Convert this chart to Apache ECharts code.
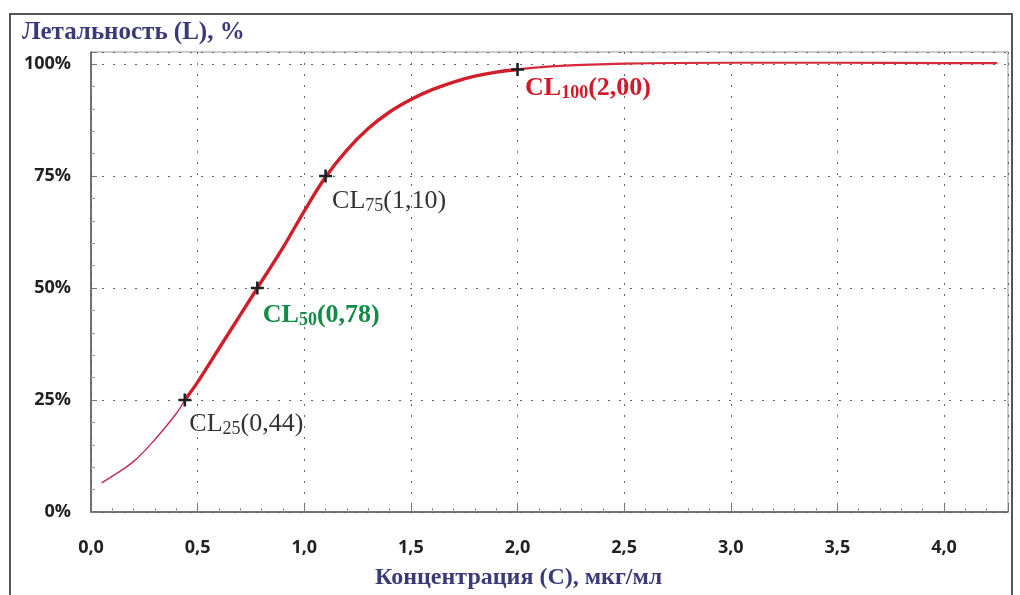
<!DOCTYPE html>
<html><head><meta charset="utf-8">
<script src="https://cdn.jsdelivr.net/npm/echarts@6/dist/echarts.min.js"></script>
<style>html,body{margin:0;padding:0;background:#fff}#c{width:1020px;height:595px}</style>
</head><body><div id="c"></div>
<script>
// Curve data (concentration, lethality %)
const curveX = [0.05,0.1,0.2,0.3,0.4,0.44,0.5,0.6,0.7,0.78,0.9,1.0,1.1,1.2,1.3,1.4,1.5,1.6,1.7,1.8,1.9,2.0,2.2,2.5,3.0,3.5,4.0,4.25];
const curveY = [6.5,8,11.3,16.2,22,25,29,36.5,44,50,59,67.2,74.8,80.8,85.6,89.3,92.1,94.3,96,97.3,98.2,98.8,99.6,100.1,100.3,100.3,100.2,100.2];
// Marked points
const markX = [0.44,0.78,1.10,2.00];
const markY = [25,50,75,98.8];
const markSub = ['25','50','75','100'];
const markVal = ['(0,44)','(0,78)','(1,10)','(2,00)'];
const xTicks = [0,0.5,1,1.5,2,2.5,3,3.5,4];
const yTicks = [0,25,50,75,100];

const pts = curveX.map((x,i)=>[x,curveY[i]]);
const thinPart = pts.filter(p=>p[0]<=0.44);
const thickPart = pts.filter(p=>p[0]>=0.44 && p[0]<=2.0);
const tailPart = pts.filter(p=>p[0]>=2.0);

const labelStyles = [
  {color:'#333333', bold:false, pos:[11,31]},
  {color:'#138a45', bold:true, pos:[12,34]},
  {color:'#333333', bold:false, pos:[13,32]},
  {color:'#cf1b2b', bold:true, pos:[14,25]}
];
const serif = '"Liberation Serif","DejaVu Serif",serif';
const markData = markX.map((x,i)=>{
  const s = labelStyles[i];
  const w = s.bold ? 'bold' : 'normal';
  return {
    value:[x, markY[i]],
    label:{
      show:true, position:s.pos, align:'left', verticalAlign:'middle', opacity:1,
      formatter:'{m|CL}{s|'+markSub[i]+'}{m|'+markVal[i]+'}',
      rich:{
        m:{fontFamily:serif, fontSize:26, color:s.color, fontWeight:w, opacity:1},
        s:{fontFamily:serif, fontSize:18, color:s.color, fontWeight:w, opacity:1, padding:[10,0,0,0]}
      }
    }
  };
});

const chart = echarts.init(document.getElementById('c'));
const axisFont = {fontFamily:'"Open Sans",sans-serif', fontWeight:'bold', fontSize:18, color:'#222'};
chart.setOption({
  animation:false,
  backgroundColor:'#fff',
  graphic:[
    {type:'rect', shape:{x:10,y:14,width:1002,height:600}, style:{fill:'none', stroke:'#555', lineWidth:2}},
    {type:'text', left:22, top:20, style:{text:'Летальность (L), %', font:'bold 25px '+serif, fill:'#3b3a78'}},
    {type:'text', left:375, top:566, style:{text:'Концентрация (С), мкг/мл', font:'bold 24px '+serif, fill:'#3b3a78'}}
  ],
  grid:{left:91, right:12, top:52, bottom:83, show:true, borderColor:'#999', borderWidth:1},
  xAxis:{
    type:'value', min:0, max:4.3, interval:0.5,
    axisLine:{lineStyle:{color:'#555', width:1.5}},
    axisTick:{show:true, inside:true, length:7, lineStyle:{color:'#777'}},
    minorTick:{show:true, splitNumber:5, length:4, lineStyle:{color:'#999'}},
    axisLabel:Object.assign({margin:27, formatter:v=> xTicks.some(t=>Math.abs(t-v)<1e-6) ? v.toFixed(1).replace('.',',') : ''}, axisFont),
    splitLine:{show:true, lineStyle:{type:[2,9], color:'#666', width:1}}
  },
  yAxis:{
    type:'value', min:0, max:102.7, interval:25,
    axisLine:{show:true, lineStyle:{color:'#555', width:1.5}},
    axisTick:{show:true, inside:true, length:6, lineStyle:{color:'#777'}},
    minorTick:{show:true, splitNumber:5, length:4, lineStyle:{color:'#999'}},
    axisLabel:Object.assign({margin:20, formatter:v=> yTicks.includes(v) ? v+'%' : ''}, axisFont),
    splitLine:{show:true, lineStyle:{type:[2,9], color:'#666', width:1}}
  },
  series:[
    {type:'line', data:thinPart, smooth:0.4, symbol:'none', lineStyle:{color:'#c02a5a', width:1.4}},
    {type:'line', data:thickPart, smooth:0.4, symbol:'none', lineStyle:{color:'#d01f2a', width:3.4}},
    {type:'line', data:tailPart, smooth:0.4, symbol:'none', lineStyle:{color:'#d42a3a', width:2.2}},
    {type:'scatter', data:markData, symbol:'path://M4,0h2v4h4v2h-4v4h-2v-4h-4v-2h4z', symbolSize:13,
     itemStyle:{color:'#222', opacity:1}, z:5}
  ]
});
</script></body></html>
